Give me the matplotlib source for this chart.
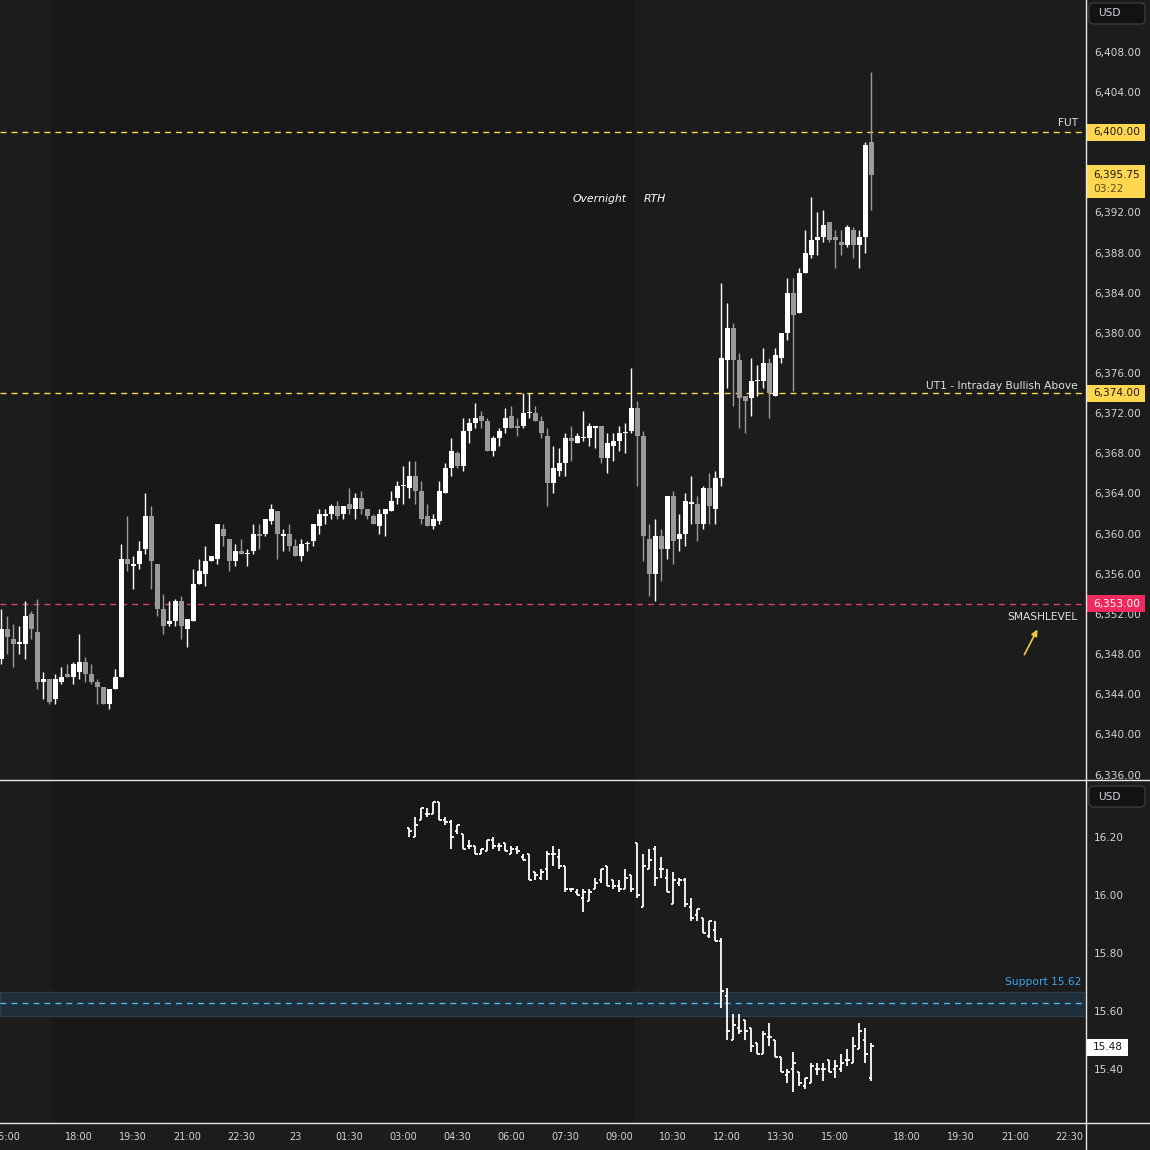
import numpy as np
import matplotlib
matplotlib.use("Agg")
import matplotlib.pyplot as plt
import matplotlib.transforms as mtransforms
from matplotlib.lines import Line2D
from matplotlib.patches import Rectangle, FancyBboxPatch
from matplotlib.ticker import FuncFormatter, FixedLocator

# ---------------- data (10-minute bars) ----------------
es_open = [6347.5, 6350.5, 6349.5, 6349.0, 6349.0, 6352.0, 6350.25, 6345.25, 6345.5, 6343.5,
           6345.25, 6346.0, 6345.75, 6346.25, 6347.25, 6346.0, 6345.25, 6344.75, 6343.0, 6344.5,
           6345.75, 6357.5, 6356.75, 6357.0, 6358.5, 6361.75, 6357.0, 6352.5, 6351.0, 6351.25,
           6353.25, 6350.5, 6351.25, 6355.0, 6356.0, 6357.25, 6357.5, 6360.5, 6359.5, 6357.25,
           6358.25, 6358.0, 6358.25, 6360.0, 6360.0, 6361.25, 6362.25, 6359.75, 6360.0, 6358.75,
           6357.75, 6359.0, 6359.25, 6360.75, 6361.75, 6362.0, 6362.75, 6362.0, 6363.0, 6362.5,
           6363.5, 6362.5, 6361.75, 6360.75, 6362.0, 6362.25, 6363.5, 6364.75, 6364.5, 6365.75,
           6364.25, 6361.75, 6360.75, 6361.25, 6364.0, 6366.5, 6368.0, 6366.75, 6370.25, 6371.0,
           6371.75, 6371.25, 6368.25, 6369.5, 6370.5, 6371.75, 6370.75, 6370.75, 6372.0, 6372.0,
           6371.25, 6369.75, 6365.0, 6366.25, 6367.0, 6369.5, 6369.0, 6369.5, 6369.5, 6370.5,
           6370.75, 6367.5, 6368.75, 6369.25, 6370.0, 6370.25, 6372.5, 6369.75, 6359.5, 6356.0,
           6359.75, 6358.5, 6363.75, 6359.5, 6360.0, 6363.0, 6363.0, 6361.0, 6364.5, 6362.5,
           6365.5, 6377.25, 6380.5, 6377.25, 6373.75, 6373.5, 6375.25, 6375.25, 6377.0, 6373.75,
           6377.5, 6380.0, 6384.0, 6382.0, 6386.0, 6387.75, 6389.25, 6389.5, 6391.0, 6389.5,
           6389.0, 6388.75, 6390.25, 6388.75, 6389.5, 6399.0]
es_high = [6352.5, 6351.75, 6351.0, 6350.75, 6353.25, 6352.25, 6353.5, 6346.25, 6345.5, 6346.0,
           6346.75, 6347.0, 6347.25, 6350.0, 6347.75, 6347.0, 6345.5, 6344.75, 6344.5, 6346.5,
           6359.0, 6361.75, 6357.75, 6359.25, 6364.0, 6362.75, 6357.0, 6354.0, 6353.25, 6353.5,
           6353.75, 6351.5, 6356.5, 6357.5, 6358.75, 6357.75, 6361.0, 6361.0, 6359.5, 6359.0,
           6359.5, 6358.5, 6361.0, 6361.0, 6361.5, 6363.0, 6362.25, 6360.5, 6361.0, 6359.5,
           6359.5, 6359.25, 6361.0, 6362.5, 6362.5, 6363.0, 6363.25, 6362.75, 6364.5, 6364.0,
           6364.25, 6362.5, 6362.0, 6362.5, 6362.5, 6364.25, 6365.25, 6366.75, 6367.25, 6367.25,
           6365.25, 6363.0, 6362.0, 6365.25, 6367.0, 6369.5, 6368.25, 6371.5, 6371.5, 6373.0,
           6372.25, 6371.5, 6369.75, 6370.5, 6372.5, 6372.75, 6371.5, 6374.0, 6374.0, 6372.75,
           6371.75, 6370.5, 6368.75, 6368.5, 6370.0, 6370.75, 6370.0, 6372.25, 6371.0, 6370.75,
           6370.75, 6370.0, 6370.0, 6370.75, 6371.0, 6376.5, 6373.25, 6370.25, 6361.0, 6361.5,
           6360.5, 6363.75, 6364.25, 6362.0, 6364.0, 6365.75, 6363.75, 6364.75, 6366.0, 6366.25,
           6385.0, 6383.0, 6381.0, 6378.0, 6373.75, 6377.5, 6376.75, 6378.5, 6377.5, 6378.5,
           6380.0, 6385.5, 6385.5, 6386.5, 6390.25, 6393.5, 6392.0, 6392.25, 6391.0, 6390.25,
           6390.25, 6390.75, 6390.5, 6390.25, 6399.0, 6406.0]
es_low = [6347.0, 6348.0, 6346.75, 6348.0, 6347.5, 6349.5, 6344.5, 6343.5, 6343.0, 6343.0,
          6345.0, 6345.75, 6345.0, 6345.5, 6345.25, 6345.0, 6343.0, 6343.0, 6342.5, 6344.5,
          6345.75, 6356.25, 6354.5, 6356.5, 6358.0, 6354.5, 6351.75, 6350.0, 6350.75, 6350.75,
          6349.5, 6348.75, 6351.25, 6355.0, 6354.75, 6357.25, 6357.0, 6358.75, 6356.25, 6356.75,
          6358.0, 6356.75, 6358.0, 6358.5, 6359.75, 6361.0, 6357.5, 6358.25, 6358.25, 6357.75,
          6357.25, 6358.25, 6358.75, 6360.0, 6361.0, 6361.5, 6361.5, 6361.5, 6362.0, 6361.5,
          6362.0, 6361.5, 6361.0, 6360.0, 6359.75, 6362.25, 6363.0, 6363.0, 6363.5, 6363.0,
          6361.0, 6360.75, 6360.5, 6361.0, 6364.0, 6365.75, 6366.5, 6366.25, 6369.0, 6370.5,
          6370.5, 6368.25, 6367.75, 6368.75, 6370.0, 6370.5, 6369.75, 6370.5, 6371.5, 6371.25,
          6369.5, 6362.75, 6364.0, 6365.75, 6365.75, 6367.25, 6369.0, 6369.25, 6368.75, 6368.5,
          6367.0, 6366.0, 6367.25, 6368.25, 6368.0, 6370.0, 6364.75, 6357.25, 6353.75, 6353.25,
          6355.25, 6357.5, 6357.0, 6358.25, 6358.75, 6361.0, 6359.25, 6360.5, 6361.0, 6361.0,
          6364.75, 6374.5, 6372.75, 6370.5, 6370.0, 6371.75, 6373.75, 6374.5, 6371.5, 6373.75,
          6377.0, 6379.25, 6374.25, 6382.0, 6386.0, 6387.5, 6387.75, 6389.0, 6389.0, 6386.5,
          6387.75, 6388.5, 6387.5, 6386.5, 6388.0, 6392.25]
es_close = [6350.5, 6349.75, 6349.0, 6349.25, 6351.75, 6350.5, 6345.25, 6345.5, 6343.25, 6345.5,
            6345.75, 6345.75, 6347.0, 6347.25, 6346.0, 6345.25, 6344.75, 6343.0, 6344.5, 6345.75,
            6357.5, 6357.0, 6357.0, 6358.25, 6361.75, 6357.25, 6352.5, 6350.75, 6351.25, 6353.25,
            6350.75, 6351.5, 6355.0, 6356.25, 6357.25, 6357.75, 6361.0, 6359.75, 6357.25, 6358.25,
            6358.0, 6358.0, 6360.0, 6359.75, 6361.5, 6362.5, 6360.0, 6360.0, 6358.75, 6357.75,
            6359.0, 6359.0, 6361.0, 6362.0, 6362.0, 6362.75, 6361.75, 6362.75, 6362.5, 6363.5,
            6362.5, 6361.75, 6361.0, 6362.0, 6362.5, 6363.25, 6364.75, 6364.75, 6365.75, 6364.25,
            6361.5, 6360.75, 6361.5, 6364.25, 6366.5, 6368.25, 6366.75, 6370.25, 6371.0, 6371.5,
            6371.25, 6368.25, 6369.5, 6370.25, 6371.5, 6370.5, 6370.5, 6372.0, 6372.0, 6371.25,
            6370.0, 6365.0, 6366.5, 6367.0, 6369.5, 6369.25, 6369.75, 6369.5, 6370.75, 6370.75,
            6367.5, 6369.0, 6369.25, 6370.0, 6370.0, 6372.5, 6369.75, 6359.75, 6356.0, 6359.75,
            6358.5, 6363.75, 6359.25, 6360.0, 6363.25, 6363.0, 6361.0, 6364.5, 6362.75, 6365.5,
            6377.5, 6380.5, 6377.25, 6373.5, 6373.25, 6375.25, 6375.25, 6377.0, 6374.0, 6377.75,
            6380.0, 6384.0, 6381.75, 6386.0, 6388.0, 6389.25, 6389.5, 6390.75, 6389.25, 6389.25,
            6388.75, 6390.5, 6388.75, 6389.5, 6398.75, 6395.75]

# VIX bars, first one aligned with ES bar number 68 (03:10)
vix_first_bar = 68
vix_open = [16.23, 16.20, 16.26, 16.28, 16.28, 16.32, 16.26, 16.25, 16.22, 16.21,
            16.17, 16.17, 16.14, 16.15, 16.19, 16.17, 16.18, 16.14, 16.16, 16.13,
            16.14, 16.08, 16.06, 16.09, 16.14, 16.13, 16.10, 16.02, 16.01, 15.99,
            15.98, 16.02, 16.05, 16.10, 16.05, 16.03, 16.02, 16.07, 16.18, 15.96,
            16.09, 16.16, 16.09, 16.06, 15.97, 16.04, 16.05, 15.96, 15.93, 15.92,
            15.86, 15.88, 15.84, 15.65, 15.50, 15.54, 15.57, 15.54, 15.49, 15.45,
            15.51, 15.50, 15.44, 15.38, 15.40, 15.39, 15.34, 15.35, 15.40, 15.40,
            15.43, 15.40, 15.40, 15.43, 15.42, 15.47, 15.50, 15.37]
vix_high = [16.23, 16.27, 16.30, 16.30, 16.32, 16.32, 16.27, 16.26, 16.24, 16.21,
            16.19, 16.17, 16.16, 16.19, 16.20, 16.18, 16.18, 16.17, 16.17, 16.14,
            16.14, 16.08, 16.09, 16.15, 16.17, 16.16, 16.10, 16.02, 16.02, 16.02,
            16.02, 16.06, 16.09, 16.10, 16.05, 16.05, 16.09, 16.07, 16.18, 16.14,
            16.16, 16.17, 16.13, 16.09, 16.08, 16.06, 16.06, 15.99, 15.95, 15.92,
            15.91, 15.91, 15.85, 15.68, 15.59, 15.59, 15.57, 15.54, 15.49, 15.53,
            15.56, 15.50, 15.44, 15.40, 15.46, 15.39, 15.37, 15.42, 15.42, 15.42,
            15.43, 15.43, 15.45, 15.47, 15.51, 15.56, 15.54, 15.49]
vix_low = [16.20, 16.20, 16.26, 16.27, 16.28, 16.26, 16.24, 16.16, 16.21, 16.16,
           16.16, 16.14, 16.14, 16.15, 16.16, 16.15, 16.15, 16.14, 16.14, 16.12,
           16.05, 16.05, 16.05, 16.05, 16.10, 16.09, 16.01, 16.01, 16.00, 15.94,
           15.98, 16.02, 16.04, 16.03, 16.02, 16.01, 16.02, 16.01, 15.99, 15.96,
           16.09, 16.03, 16.06, 16.01, 15.97, 16.03, 15.96, 15.91, 15.91, 15.87,
           15.85, 15.84, 15.61, 15.50, 15.50, 15.52, 15.50, 15.46, 15.45, 15.45,
           15.48, 15.44, 15.39, 15.35, 15.32, 15.34, 15.33, 15.35, 15.38, 15.36,
           15.39, 15.37, 15.39, 15.41, 15.42, 15.47, 15.42, 15.36]
vix_close = [16.22, 16.24, 16.30, 16.28, 16.32, 16.26, 16.25, 16.20, 16.24, 16.16,
             16.17, 16.14, 16.16, 16.19, 16.17, 16.17, 16.15, 16.16, 16.15, 16.12,
             16.05, 16.07, 16.08, 16.14, 16.14, 16.10, 16.02, 16.02, 16.00, 16.01,
             16.01, 16.04, 16.09, 16.03, 16.03, 16.02, 16.06, 16.02, 16.00, 16.10,
             16.12, 16.06, 16.09, 16.01, 16.05, 16.05, 15.97, 15.92, 15.95, 15.87,
             15.91, 15.84, 15.67, 15.53, 15.55, 15.53, 15.53, 15.48, 15.45, 15.52,
             15.51, 15.44, 15.39, 15.39, 15.42, 15.35, 15.37, 15.41, 15.40, 15.40,
             15.39, 15.41, 15.42, 15.43, 15.48, 15.53, 15.45, 15.48]

xtick_bars = [1, 13, 22, 31, 40, 49, 58, 67, 76, 85, 94, 103, 112, 121, 130, 139,
              151, 160, 169, 178]
xtick_labels = ["15:00", "18:00", "19:30", "21:00", "22:30", "23", "01:30", "03:00",
                "04:30", "06:00", "07:30", "09:00", "10:30", "12:00", "13:30", "15:00",
                "18:00", "19:30", "21:00", "22:30"]

overnight_span = (8.5, 105.5)
fut_level, ut1_level, smash_level = 6400.0, 6374.0, 6353.0
support_level, support_band = 15.62, (15.583, 15.666)
es_last, countdown = 6395.75, "03:22"
vix_last = 15.48

# ---------------- figure ----------------
W = H = 1150
BG = "#1c1c1c"
BG_NIGHT = "#181818"
TXT = "#d1d4dc"
YEL = "#ffd650"
RED = "#f02a5e"
BLUE = "#4fb8f0"
plt.rcParams["font.family"] = ["DejaVu Sans"]

fig = plt.figure(figsize=(W / 100, H / 100), dpi=100)
fig.patch.set_facecolor(BG)


def frac(x0, y0, x1, y1):
    return [x0 / W, 1 - y1 / H, (x1 - x0) / W, (y1 - y0) / H]


ax = fig.add_axes(frac(0, 0, 1085, 779))
ax2 = fig.add_axes(frac(0, 779, 1085, 1122), sharex=ax)
for a in (ax, ax2):
    a.set_facecolor(BG)
    for s in a.spines.values():
        s.set_visible(False)
    a.axvspan(*overnight_span, color=BG_NIGHT, lw=0, zorder=0)

# candles
o = np.array(es_open); h = np.array(es_high); l = np.array(es_low); c = np.array(es_close)
idx = np.arange(len(o))
up = c >= o
cols = np.where(up, "#ffffff", "#9a9a9a")
ax.vlines(idx, l, h, colors=cols, linewidth=1.0, zorder=3)
bottom = np.minimum(o, c)
height = np.maximum(np.abs(c - o), 0.1)
ax.bar(idx, height, bottom=bottom, width=0.77, color=cols, linewidth=0, zorder=4)

# VIX OHLC bars
vx = np.arange(vix_first_bar, vix_first_bar + len(vix_open))
ax2.vlines(vx, vix_low, vix_high, colors="white", linewidth=1.3, zorder=3)
ax2.hlines(vix_open, vx - 0.38, vx, colors="white", linewidth=1.3, zorder=3)
ax2.hlines(vix_close, vx, vx + 0.38, colors="white", linewidth=1.3, zorder=3)

# level lines
dash = (0, (4.3, 3.6))
ax.axhline(fut_level, color=YEL, lw=1, ls=dash, zorder=2)
ax.axhline(ut1_level, color=YEL, lw=1, ls=dash, zorder=2)
ax.axhline(smash_level, color="#d8416b", lw=1, ls=dash, zorder=2)
ax2.axhspan(*support_band, facecolor="#1f2e39", edgecolor="#2c3e4c", lw=1, zorder=1)
ax2.axhline(support_level + 0.007, color=BLUE, lw=1, ls=dash, zorder=2)

# limits
ax.set_xlim(-0.217, 180.62)
ax.set_ylim(6335.56, 6413.15)
ax2.set_ylim(15.217, 16.40)

# ticks
ax.yaxis.tick_right()
ax2.yaxis.tick_right()
ax.yaxis.set_major_locator(FixedLocator(np.arange(6336, 6409, 4)))
ax.yaxis.set_major_formatter(FuncFormatter(lambda v, p: f"{v:,.2f}"))
ax2.yaxis.set_major_locator(FixedLocator([15.4, 15.6, 15.8, 16.0, 16.2]))
ax2.yaxis.set_major_formatter(FuncFormatter(lambda v, p: f"{v:.2f}"))
for a in (ax, ax2):
    a.tick_params(axis="y", length=0, pad=6.5, labelsize=7.6, labelcolor=TXT)
ax.tick_params(axis="x", bottom=False, labelbottom=False)
ax2.set_xticks(xtick_bars)
ax2.set_xticklabels(xtick_labels)
ax2.tick_params(axis="x", length=0, pad=7.5, labelsize=7.0, labelcolor=TXT)

# annotations in chart
ax.text(104.2, 6393.3, "Overnight", color="white", fontsize=7.8, style="italic",
        ha="right", va="center", zorder=6)
ax.text(107.0, 6393.3, "RTH", color="white", fontsize=7.8, style="italic",
        ha="left", va="center", zorder=6)
tx = mtransforms.blended_transform_factory(ax.transAxes, ax.transData)
ax.text(1078 / 1085, fut_level + 0.45, "FUT", transform=tx, color="#e0e0e0",
        fontsize=7.7, ha="right", va="bottom", zorder=6)
ax.text(1078 / 1085, ut1_level + 0.25, "UT1 - Intraday Bullish Above", transform=tx,
        color="#e0e0e0", fontsize=7.7, ha="right", va="bottom", zorder=6)
ax.text(1078 / 1085, smash_level - 0.8, "SMASHLEVEL", transform=tx, color="#e0e0e0",
        fontsize=7.7, ha="right", va="top", zorder=6)
ax.annotate("", xy=(172.9, 6350.7), xytext=(170.3, 6347.7),
            arrowprops=dict(arrowstyle="-|>", color="#f5c842", lw=1.2,
                            mutation_scale=9), zorder=6)
tx2 = mtransforms.blended_transform_factory(ax2.transAxes, ax2.transData)
ax2.text(1081 / 1085, support_band[1] + 0.015, f"Support {support_level:.2f}",
         transform=tx2, color="#3ea6f0", fontsize=7.7, ha="right", va="bottom", zorder=6)


# price tags on the scale
def tag(axis, value, text, bg, fg, width_px=58, h_px=17, center=None, sub=None):
    tr = mtransforms.blended_transform_factory(fig.transFigure, axis.transData)
    y0, y1 = axis.get_ylim()
    ppu = axis.get_position().height * H / (y1 - y0)
    hh = h_px / ppu
    cy = value if center is None else center
    fig.add_artist(Rectangle((1087 / W, cy - hh / 2), width_px / W, hh, transform=tr,
                             facecolor=bg, edgecolor="none", zorder=5))
    fig.text(1093 / W, value, text, transform=tr, color=fg, fontsize=7.6,
             ha="left", va="center", zorder=6)
    if sub is not None:
        fig.text(1093 / W, value - 14 / ppu, sub, transform=tr, color="#5a4a10",
                 fontsize=7.6, ha="left", va="center", zorder=6)


tag(ax, fut_level, f"{fut_level:,.2f}", YEL, "#1a1a1a")
tag(ax, es_last, f"{es_last:,.2f}", YEL, "#1a1a1a", h_px=33,
    center=es_last - 0.7, sub=countdown)
tag(ax, ut1_level, f"{ut1_level:,.2f}", YEL, "#1a1a1a")
tag(ax, smash_level, f"{smash_level:,.2f}", RED, "white")
tag(ax2, vix_last - 0.005, f"{vix_last:.2f}", "white", "#1a1a1a", width_px=41)

# USD boxes
for ytop in (3, 786):
    fig.add_artist(FancyBboxPatch((1089 / W, 1 - (ytop + 21) / H), 56 / W, 21 / H,
                                  boxstyle="round,pad=0,rounding_size=0.004",
                                  transform=fig.transFigure, facecolor="#121212",
                                  edgecolor="#3a3a3a", lw=1, zorder=5))
    fig.text(1098 / W, 1 - (ytop + 10.5) / H, "USD", color=TXT, fontsize=7.6,
             ha="left", va="center", zorder=6)

# separators
for yy in (779.5, 1122.5):
    fig.add_artist(Line2D([0, 1], [1 - yy / H] * 2, transform=fig.transFigure,
                          color="#e8e8e8", lw=1, zorder=7))
fig.add_artist(Line2D([1085.5 / W] * 2, [0, 1], transform=fig.transFigure,
                      color="#e8e8e8", lw=1, zorder=7))

fig.savefig("out.png", dpi=100, facecolor=fig.get_facecolor())
